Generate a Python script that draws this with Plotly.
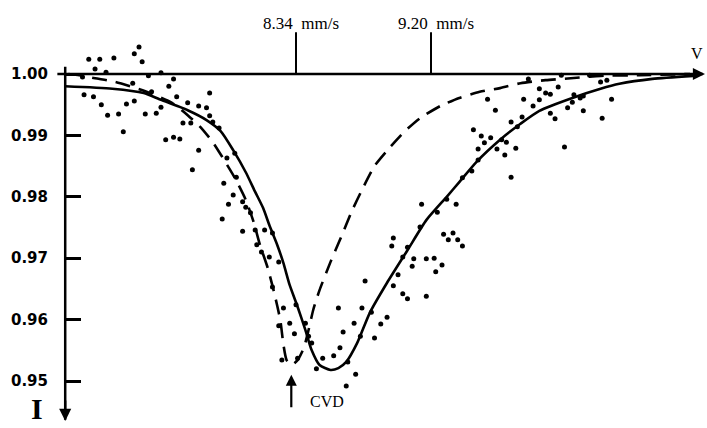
import plotly.graph_objects as go

# ---- data (velocity in mm/s, relative intensity) ----
dot_velocity = [
    7.02, 7.09, 7.18, 7.34, 7.31, 7.36, 7.06, 7.13, 7.48, 7.40,
    6.98, 7.56, 7.30, 7.53, 6.99, 7.05, 7.42, 7.79, 7.58, 7.10,
    7.26, 7.31, 7.65, 7.72, 7.77, 7.48, 7.14, 7.21, 7.38, 7.45,
    7.62, 7.67, 7.81, 7.79, 7.85, 7.24, 7.51, 7.56, 7.60, 7.72,
    7.68, 7.88, 7.90, 7.95, 7.96, 7.94, 7.91, 7.87,
    8.00, 8.02, 8.05, 8.00, 8.08, 8.14, 8.19, 8.09, 8.12, 8.17,
    8.23, 8.19, 8.26, 8.34, 8.23, 8.30, 8.33, 8.40, 8.42, 8.25,
    8.35, 8.44, 8.47, 8.51, 8.58, 8.62, 8.67, 8.61, 8.64, 8.71,
    8.76, 8.78, 8.82, 8.84, 8.88, 8.92, 8.75, 8.72, 8.66,
    8.96, 9.02, 9.05, 8.99, 9.02, 9.09, 9.08, 9.17, 9.22, 9.23,
    9.27, 9.17, 8.95, 8.96, 9.14, 9.36, 9.13, 9.28, 9.34, 9.31,
    9.37, 9.40, 9.24, 9.30, 9.05, 9.56, 9.61, 9.79, 9.85,
    9.89, 9.93, 9.96, 9.96, 9.99, 10.11, 10.17, 10.10, 10.07, 10.17,
    10.29, 10.35, 10.05, 9.47, 9.52, 9.58, 9.54, 9.50, 9.65, 9.68,
    9.62, 9.67, 9.74, 9.71, 9.78, 9.75, 9.71, 9.50, 9.46, 9.40,
    9.89, 10.01, 9.82, 10.03, 10.21, 10.28, 10.32, 10.15,
]
dot_intensity = [
    1.0024, 1.0024, 1.0026, 1.0044, 1.0033, 1.0020, 1.0008, 1.0003, 1.0002, 0.9997,
    0.9995, 0.9992, 0.9985, 0.9980, 0.9966, 0.9963, 0.9971, 0.9969, 0.9963, 0.9950,
    0.9951, 0.9956, 0.9953, 0.9948, 0.9945, 0.9946, 0.9933, 0.9935, 0.9935, 0.9936,
    0.9920, 0.9920, 0.9922, 0.9932, 0.9912, 0.9906, 0.9893, 0.9897, 0.9894, 0.9876,
    0.9844, 0.9822, 0.9863, 0.9871, 0.9832, 0.9803, 0.9788, 0.9764,
    0.9792, 0.9783, 0.9774, 0.9744, 0.9746, 0.9746, 0.9741, 0.9722, 0.9710, 0.9702,
    0.9694, 0.9653, 0.9619, 0.9624, 0.9590, 0.9594, 0.9577, 0.9594, 0.9573, 0.9534,
    0.9537, 0.9562, 0.9520, 0.9537, 0.9541, 0.9554, 0.9531, 0.9619, 0.9580, 0.9594,
    0.9619, 0.9663, 0.9612, 0.9570, 0.9593, 0.9604, 0.9573, 0.9511, 0.9492,
    0.9655, 0.9642, 0.9634, 0.9673, 0.9702, 0.9699, 0.9687, 0.9699, 0.9700, 0.9678,
    0.9689, 0.9638, 0.9720, 0.9733, 0.9788, 0.9788, 0.9751, 0.9739, 0.9741, 0.9730,
    0.9730, 0.9720, 0.9775, 0.9796, 0.9718, 0.9959, 0.9941, 0.9959, 0.9948,
    0.9958, 0.9969, 0.9967, 0.9936, 0.9927, 0.9966, 0.9964, 0.9954, 0.9945, 0.9940,
    0.9928, 0.9959, 0.9881, 0.9909, 0.9899, 0.9896, 0.9888, 0.9878, 0.9893, 0.9889,
    0.9878, 0.9868, 0.9879, 0.9922, 0.9930, 0.9914, 0.9832, 0.9860, 0.9842, 0.9831,
    0.9976, 0.9979, 0.9992, 0.9998, 0.9998, 0.9987, 0.9990, 0.9961,
]

fit_velocity = [
    6.87, 7.17, 7.37, 7.47, 7.65, 7.77, 7.86, 7.94, 8.02, 8.08,
    8.13, 8.17, 8.22, 8.26, 8.30, 8.35, 8.40, 8.44, 8.49, 8.56,
    8.61, 8.66, 8.73, 8.81, 8.92, 9.05, 9.17, 9.30, 9.38, 9.49,
    9.64, 9.77, 9.89, 10.10, 10.28, 10.40, 10.61, 10.87,
]
fit_intensity = [
    0.9980, 0.9976, 0.9969, 0.9959, 0.9941, 0.9925, 0.9907, 0.9876, 0.9840, 0.9808,
    0.9782, 0.9754, 0.9722, 0.9692, 0.9656, 0.9621, 0.9583, 0.9550, 0.9526, 0.9518,
    0.9521, 0.9531, 0.9562, 0.9611, 0.9660, 0.9713, 0.9762, 0.9800, 0.9824, 0.9857,
    0.9893, 0.9919, 0.9940, 0.9961, 0.9976, 0.9984, 0.9992, 0.9997,
]

cvd_velocity = [
    6.89, 6.96, 7.06, 7.19, 7.38, 7.55, 7.65, 7.73, 7.81, 7.87,
    7.95, 8.02, 8.07, 8.11, 8.16, 8.20, 8.24, 8.26, 8.28, 8.31,
    8.35, 8.39, 8.42, 8.45, 8.49, 8.56, 8.62, 8.70, 8.76, 8.84,
    8.94, 9.03, 9.13, 9.26, 9.38, 9.51, 9.64, 9.77, 9.93, 10.09,
    10.28, 10.53, 10.85,
]
cvd_intensity = [
    1.0000, 0.9998, 0.9993, 0.9987, 0.9972, 0.9953, 0.9933, 0.9914, 0.9889, 0.9865,
    0.9831, 0.9795, 0.9759, 0.9722, 0.9684, 0.9645, 0.9599, 0.9559, 0.9534, 0.9526,
    0.9534, 0.9554, 0.9583, 0.9616, 0.9648, 0.9694, 0.9730, 0.9779, 0.9811, 0.9850,
    0.9881, 0.9906, 0.9928, 0.9948, 0.9961, 0.9971, 0.9977, 0.9985, 0.9990, 0.9993,
    0.9997, 0.9998, 1.0000,
]

y_ticks = [1.00, 0.99, 0.98, 0.97, 0.96, 0.95]
y_tick_text = ["1.00", "0.99", "0.98", "0.97", "0.96", "0.95"]
marker_velocities = [8.34, 9.20]
marker_labels = ["8.34\u00a0\u00a0mm/s", "9.20\u00a0\u00a0mm/s"]
cvd_position = 8.31

# ---- geometry of the frame ----
X_RANGE = [6.80497, 10.95783]
Y_RANGE = [0.942345, 1.010423]
AXIS_X0 = 6.87       # vertical axis position
BASE_I = 1.00        # horizontal axis level

fig = go.Figure()

fig.add_trace(go.Scatter(
    x=cvd_velocity, y=cvd_intensity, mode="lines",
    line=dict(color="black", width=2.6, dash="15px,9px", shape="spline", smoothing=0.6),
    hoverinfo="skip", showlegend=False))
fig.add_trace(go.Scatter(
    x=fit_velocity, y=fit_intensity, mode="lines",
    line=dict(color="black", width=2.6, shape="spline", smoothing=0.6),
    hoverinfo="skip", showlegend=False))
fig.add_trace(go.Scatter(
    x=dot_velocity, y=dot_intensity, mode="markers",
    marker=dict(color="black", size=5),
    cliponaxis=False, hoverinfo="skip", showlegend=False))

shapes = []
# horizontal axis (V)
shapes.append(dict(type="line", xref="x", yref="y", x0=6.82, x1=10.93,
                   y0=BASE_I, y1=BASE_I, line=dict(color="black", width=2.5)))
# vertical axis (I)
shapes.append(dict(type="line", xref="x", yref="y", x0=AXIS_X0, x1=AXIS_X0,
                   y0=1.0012, y1=0.9437, line=dict(color="black", width=2.5)))
# velocity markers
for v in marker_velocities:
    shapes.append(dict(type="line", xref="x", yref="y", x0=v, x1=v,
                       y0=BASE_I, y1=1.0068, line=dict(color="black", width=2)))

annotations = []
for v, t in zip(marker_velocities, marker_labels):
    annotations.append(dict(x=v, y=1.0083, xref="x", yref="y", text=t, showarrow=False,
                            xshift=5, font=dict(family="Liberation Serif", size=17, color="black")))
# arrow heads
annotations.append(dict(x=10.945, y=BASE_I, xref="x", yref="y", ax=-22, ay=0, text="",
                        showarrow=True, arrowhead=2, arrowsize=1.1, arrowwidth=2.2,
                        arrowcolor="black"))
annotations.append(dict(x=AXIS_X0, y=0.94349, xref="x", yref="y", ax=0, ay=-22, text="",
                        showarrow=True, arrowhead=2, arrowsize=1.1, arrowwidth=2.2,
                        arrowcolor="black"))
annotations.append(dict(x=cvd_position, y=0.9510, xref="x", yref="y", ax=0, ay=34, text="",
                        showarrow=True, arrowhead=2, arrowsize=1.0, arrowwidth=2.2,
                        arrowcolor="black"))
annotations.append(dict(x=8.537, y=0.9466, xref="x", yref="y", text="CVD", showarrow=False,
                        font=dict(family="Liberation Serif", size=16, color="black")))
annotations.append(dict(x=10.894, y=1.0034, xref="x", yref="y", text="V", showarrow=False,
                        font=dict(family="Liberation Serif", size=16, color="black")))
annotations.append(dict(x=-0.040, y=0.9456, xref="paper", yref="y", text="<b>I</b>",
                        showarrow=False,
                        font=dict(family="Liberation Serif", size=30, color="black")))

fig.update_layout(
    width=707, height=428,
    margin=dict(l=55, r=0, t=10, b=0),
    paper_bgcolor="white", plot_bgcolor="white",
    xaxis=dict(range=X_RANGE, visible=False, showgrid=False, zeroline=False),
    yaxis=dict(range=Y_RANGE, showgrid=False, zeroline=False, showline=False,
               anchor="free", position=(65 - 55) / 652,
               tickmode="array", tickvals=y_ticks, ticktext=y_tick_text,
               ticks="inside", ticklen=15, tickwidth=2.5, tickcolor="black",
               ticklabelstandoff=17,
               tickfont=dict(family="DejaVu Sans", size=15, weight="bold", color="black")),
    shapes=shapes, annotations=annotations,
)

fig.write_html("out.html", config={"displayModeBar": False},
               post_script="document.body.style.margin='0';document.body.style.overflow='hidden';")
